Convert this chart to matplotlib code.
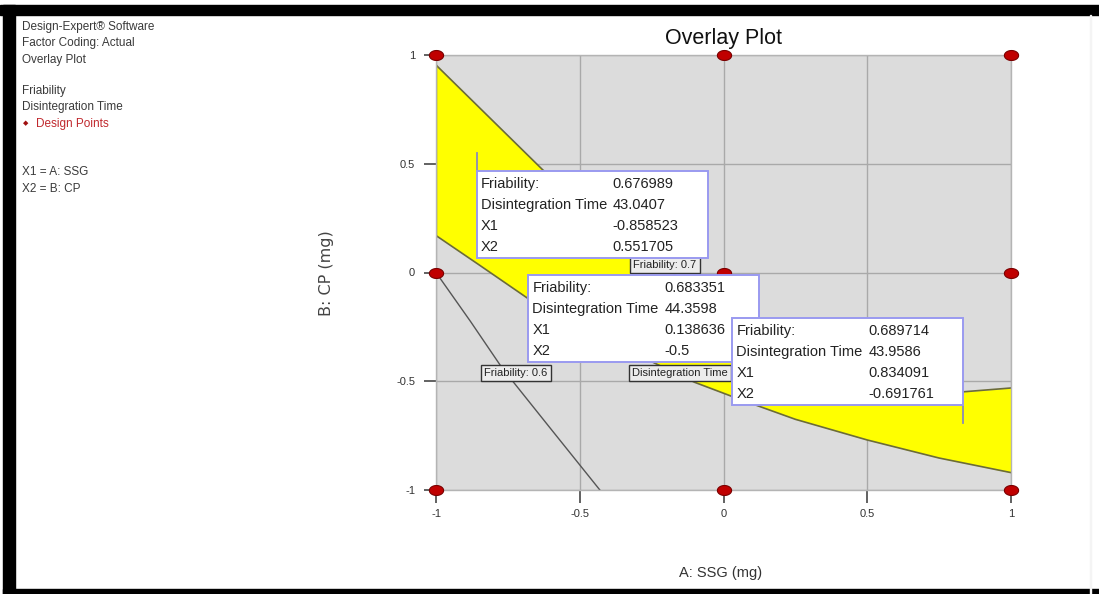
import numpy as np
import matplotlib
matplotlib.use("Agg")
import matplotlib.pyplot as plt
from matplotlib.patches import Rectangle
from matplotlib.path import Path

# ---------------- data ----------------
tick_values = [-1, -0.5, 0, 0.5, 1]
tick_labels = ["-1", "-0.5", "0", "0.5", "1"]
design_levels = [-1, 0, 1]

# Friability = 0.7 contour (upper edge of the yellow region)
fri07_x = [-1.0, -0.628, -0.4, -0.18, 0.0, 0.2, 0.4, 0.6, 0.83, 1.0]
fri07_y = [0.954, 0.471, 0.23, 0.0, -0.17, -0.33, -0.45, -0.52, -0.549, -0.531]

# Disintegration Time contour (lower edge of the yellow region)
dis_x = [-1.0, -0.85, -0.673, -0.4, -0.1, 0.05, 0.25, 0.5, 0.75, 1.0]
dis_y = [0.17, 0.035, -0.126, -0.315, -0.505, -0.58, -0.675, -0.77, -0.853, -0.92]

# Friability = 0.6 contour
fri06_x = [-1.0, -0.88, -0.77, -0.6, -0.43]
fri06_y = [0.0, -0.225, -0.439, -0.72, -1.0]

# flagged points
flag_friability = [0.676989, 0.683351, 0.689714]
flag_dis_time = [43.0407, 44.3598, 43.9586]
flag_x1 = [-0.858523, 0.138636, 0.834091]
flag_x2 = [0.551705, -0.5, -0.691761]
flag_row_names = ["Friability:", "Disintegration Time", "X1", "X2"]

side_lines = ["Design-Expert\u00ae Software", "Factor Coding: Actual", "Overlay Plot",
              "Friability", "Disintegration Time", "Design Points",
              "X1 = A: SSG", "X2 = B: CP"]

# ---------------- figure ----------------
W, H = 1099, 594
fig = plt.figure(figsize=(W / 100, H / 100), dpi=100)
fig.patch.set_facecolor("white")
plt.rcParams["font.family"] = ["Liberation Sans", "DejaVu Sans"]

def fx(px):
    return px / W

def fy(py):
    return 1 - py / H

# black frame
frame_kw = dict(transform=fig.transFigure, color="black", zorder=0)
fig.patches.append(Rectangle((0, fy(15)), 1, (15 - 5) / H, **frame_kw))
fig.patches.append(Rectangle((fx(3), 0), 12 / W, fy(5), **frame_kw))
fig.patches.append(Rectangle((fx(3), 0), 1, 5 / H, **frame_kw))
fig.patches.append(Rectangle((fx(1090), 0), 1 / W, fy(15), transform=fig.transFigure,
                             color="#f4f4f4", zorder=0))

ax_l, ax_t, ax_r, ax_b = 436, 55, 1011, 490
ax = fig.add_axes([fx(ax_l), fy(ax_b), (ax_r - ax_l) / W, (ax_b - ax_t) / H])
ax.set_xlim(-1, 1)
ax.set_ylim(-1, 1)
ax.set_facecolor("#dcdcdc")
ax.set_xticks(tick_values)
ax.set_xticklabels(tick_labels)
ax.set_yticks(tick_values)
ax.set_yticklabels(tick_labels)
ax.grid(True, color="#a9a9a9", lw=1.0)
ax.set_axisbelow(True)
for s in ax.spines.values():
    s.set_color("#b4b4b4")
    s.set_linewidth(1.0)
ax.tick_params(direction="out", length=9, width=1.3, color="#555555",
               labelsize=8, labelcolor="#333333")
ax.tick_params(axis="y", pad=6)
ax.tick_params(axis="x", pad=5)

# yellow region
xs = np.union1d(fri07_x, dis_x)
up = np.interp(xs, fri07_x, fri07_y)
lo = np.interp(xs, dis_x, dis_y)
ax.fill_between(xs, lo, up, color="#ffff00", lw=0, zorder=1.5)
ax.plot(fri07_x, fri07_y, color="#6b6b3a", lw=1.2, zorder=2)
ax.plot(dis_x, dis_y, color="#6b6b3a", lw=1.2, zorder=2)
ax.plot([-1, -1], [up[0], lo[0]], color="#8a8a40", lw=1.0, zorder=2)
ax.plot(fri06_x, fri06_y, color="#555555", lw=1.0, zorder=2)

# design points
t = np.linspace(0, 2 * np.pi, 60)
ell = Path(np.column_stack([np.cos(t), 0.7 * np.sin(t)]))
gx, gy = np.meshgrid(design_levels, design_levels)
ax.scatter(gx.ravel(), gy.ravel(), marker=ell, s=105, color="#c00000",
           edgecolors="#7a0000", linewidths=0.8, clip_on=False, zorder=5)

ax.set_title("Overlay Plot", fontsize=15.5, color="#111111", pad=8)
fig.text(fx(721), fy(573), "A: SSG (mg)", fontsize=10.5, color="#333333",
         ha="center", va="center")
fig.text(fx(326), fy(273), "B: CP (mg)", fontsize=11.5, color="#444444",
         ha="center", va="center", rotation=90, family=["DejaVu Sans"])

# contour labels
fig.canvas.draw()
def d2p(x, y):
    X, Y = ax.transData.transform((x, y))
    return X, H - Y

lab_kw = dict(fontsize=8, color="#222222", va="center", zorder=6,
              bbox=dict(boxstyle="square,pad=0.3", fc="#ececec", ec="#333333", lw=1.0))
fig.text(fx(665), fy(265), "Friability: 0.7", ha="center", **lab_kw)
fig.text(fx(516), fy(373), "Friability: 0.6", ha="center", **lab_kw)
fig.text(fx(632), fy(373), "Disintegration Time", ha="left", **lab_kw)

# info boxes (left, top offsets relative to flagged point, in pixels)
box_w, box_h = 231, 87
box_offsets = [(0, 18), (-4 - box_w, -19 - box_h), (-box_w, -18 - box_h)]
pointer = [True, False, True]
for i in range(3):
    px, py = d2p(flag_x1[i], flag_x2[i])
    left = px + box_offsets[i][0]
    top = py + box_offsets[i][1]
    fig.patches.append(Rectangle((fx(left), fy(top + box_h)), box_w / W, box_h / H,
                                 transform=fig.transFigure, fc="white", ec="#9a9af0",
                                 lw=1.4, zorder=10 + i))
    if pointer[i]:
        if box_offsets[i][1] > 0:
            yy = (py, top)
        else:
            yy = (top + box_h, py)
        fig.lines.append(plt.Line2D([fx(px), fx(px)], [fy(yy[0]), fy(yy[1])],
                                    transform=fig.transFigure, color="#8a8ab8",
                                    lw=1.3, zorder=10 + i))
    vals = [flag_friability[i], flag_dis_time[i], flag_x1[i], flag_x2[i]]
    for r, (name, v) in enumerate(zip(flag_row_names, vals)):
        yrow = top + 13 + 21 * r
        fig.text(fx(left + 4), fy(yrow), name, fontsize=10.5, color="#222222",
                 va="center", ha="left", zorder=10 + i)
        fig.text(fx(left + 136), fy(yrow), f"{v:g}", fontsize=10.5, color="#222222",
                 va="center", ha="left", zorder=10 + i)

# side legend text
side_y = [27, 43, 60, 91, 107, 124, 172, 189]
for txt, yy in zip(side_lines, side_y):
    if txt == "Design Points":
        fig.text(fx(23), fy(yy), "\u25c6", fontsize=5, color="#a01010", va="center")
        fig.text(fx(36), fy(yy), txt, fontsize=8.5, color="#c0282d", va="center")
    else:
        fig.text(fx(22), fy(yy), txt, fontsize=8.5, color="#3a3a3a", va="center")

fig.savefig("out.png", dpi=100)
